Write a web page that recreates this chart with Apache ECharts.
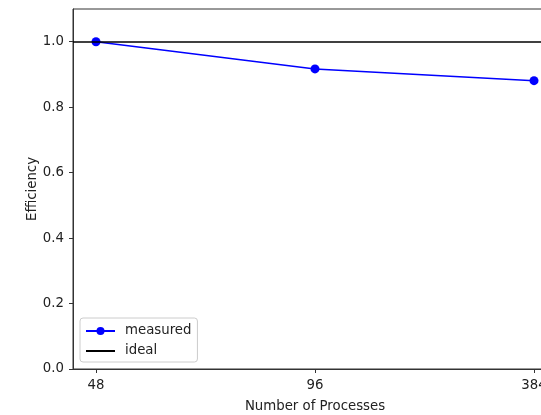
<!DOCTYPE html>
<html><head><meta charset="utf-8">
<script src="https://cdn.jsdelivr.net/npm/echarts@6/dist/echarts.min.js"></script>
<style>html,body{margin:0;padding:0;background:#fff}#c{width:541px;height:415px}</style>
</head><body><div id="c"></div>
<script>
const categories = ['48', '96', '384'];
const measured = [1.0, 0.917, 0.881];
const idealValue = 1.0;
const yTicks = [0, 0.2, 0.4, 0.6, 0.8, 1.0];
const xTicks = [0, 1, 2];

const chart = echarts.init(document.getElementById('c'), null, {renderer: 'canvas'});
const font = 'DejaVu Sans';
const fs = 13.3;
chart.setOption({
  animation: false,
  backgroundColor: '#fff',
  textStyle: {fontFamily: font},
  grid: {left: 73, top: 9, width: 484, height: 360, outerBoundsMode: 'none', containLabel: false,
    show: true, borderColor: '#333', borderWidth: 1, backgroundColor: 'transparent'},
  legend: {
    orient: 'vertical', left: 80, top: 318,
    padding: [5, 6, 3, 5], itemGap: 4, itemWidth: 29, itemHeight: 10,
    backgroundColor: 'rgba(255,255,255,0.8)', borderColor: '#cccccc', borderWidth: 1, borderRadius: 3,
    textStyle: {fontFamily: font, fontSize: fs, color: '#222', lineHeight: 16, padding: [0, 0, 0, 5]},
    data: [{name: 'measured'}, {name: 'ideal', itemStyle: {opacity: 0}}]
  },
  xAxis: {
    type: 'value', min: -0.105, max: 2.105,
    name: 'Number of Processes', nameLocation: 'middle', nameGap: 31, nameMoveOverlap: false,
    nameTextStyle: {fontFamily: font, fontSize: fs, color: '#222'},
    splitLine: {show: false},
    axisLine: {show: true, onZero: false, lineStyle: {color: '#333', width: 1}},
    axisTick: {show: true, length: 4, customValues: xTicks, lineStyle: {color: '#333'}},
    axisLabel: {customValues: xTicks, margin: 10, fontFamily: font, fontSize: fs, color: '#222',
      hideOverlap: false, formatter: v => categories[Math.round(v)]}
  },
  yAxis: {
    type: 'value', min: 0, max: 1.1,
    name: 'Efficiency', nameLocation: 'middle', nameGap: 34, nameRotate: 90, nameMoveOverlap: false,
    nameTextStyle: {fontFamily: font, fontSize: fs, color: '#222'},
    splitLine: {show: false},
    axisLine: {show: true, onZero: false, lineStyle: {color: '#333', width: 1}},
    axisTick: {show: true, length: 4, customValues: yTicks, lineStyle: {color: '#333'}},
    axisLabel: {customValues: yTicks, margin: 9, fontFamily: font, fontSize: fs, color: '#222',
      formatter: v => v.toFixed(1)}
  },
  series: [
    {
      name: 'measured', type: 'line',
      data: measured.map((v, i) => [xTicks[i], v]),
      symbol: 'circle', symbolSize: 9,
      itemStyle: {color: '#0000ff'},
      lineStyle: {color: '#0000ff', width: 1.5},
      z: 3
    },
    {
      name: 'ideal', type: 'line', data: [],
      symbol: 'none',
      itemStyle: {color: '#000'},
      lineStyle: {color: '#000', width: 1.5},
      markLine: {
        silent: true, symbol: ['none', 'none'], label: {show: false},
        lineStyle: {color: '#000', width: 1.5, type: 'solid'},
        emphasis: {disabled: true},
        data: [{yAxis: idealValue}]
      },
      z: 2
    }
  ]
});
</script></body></html>
